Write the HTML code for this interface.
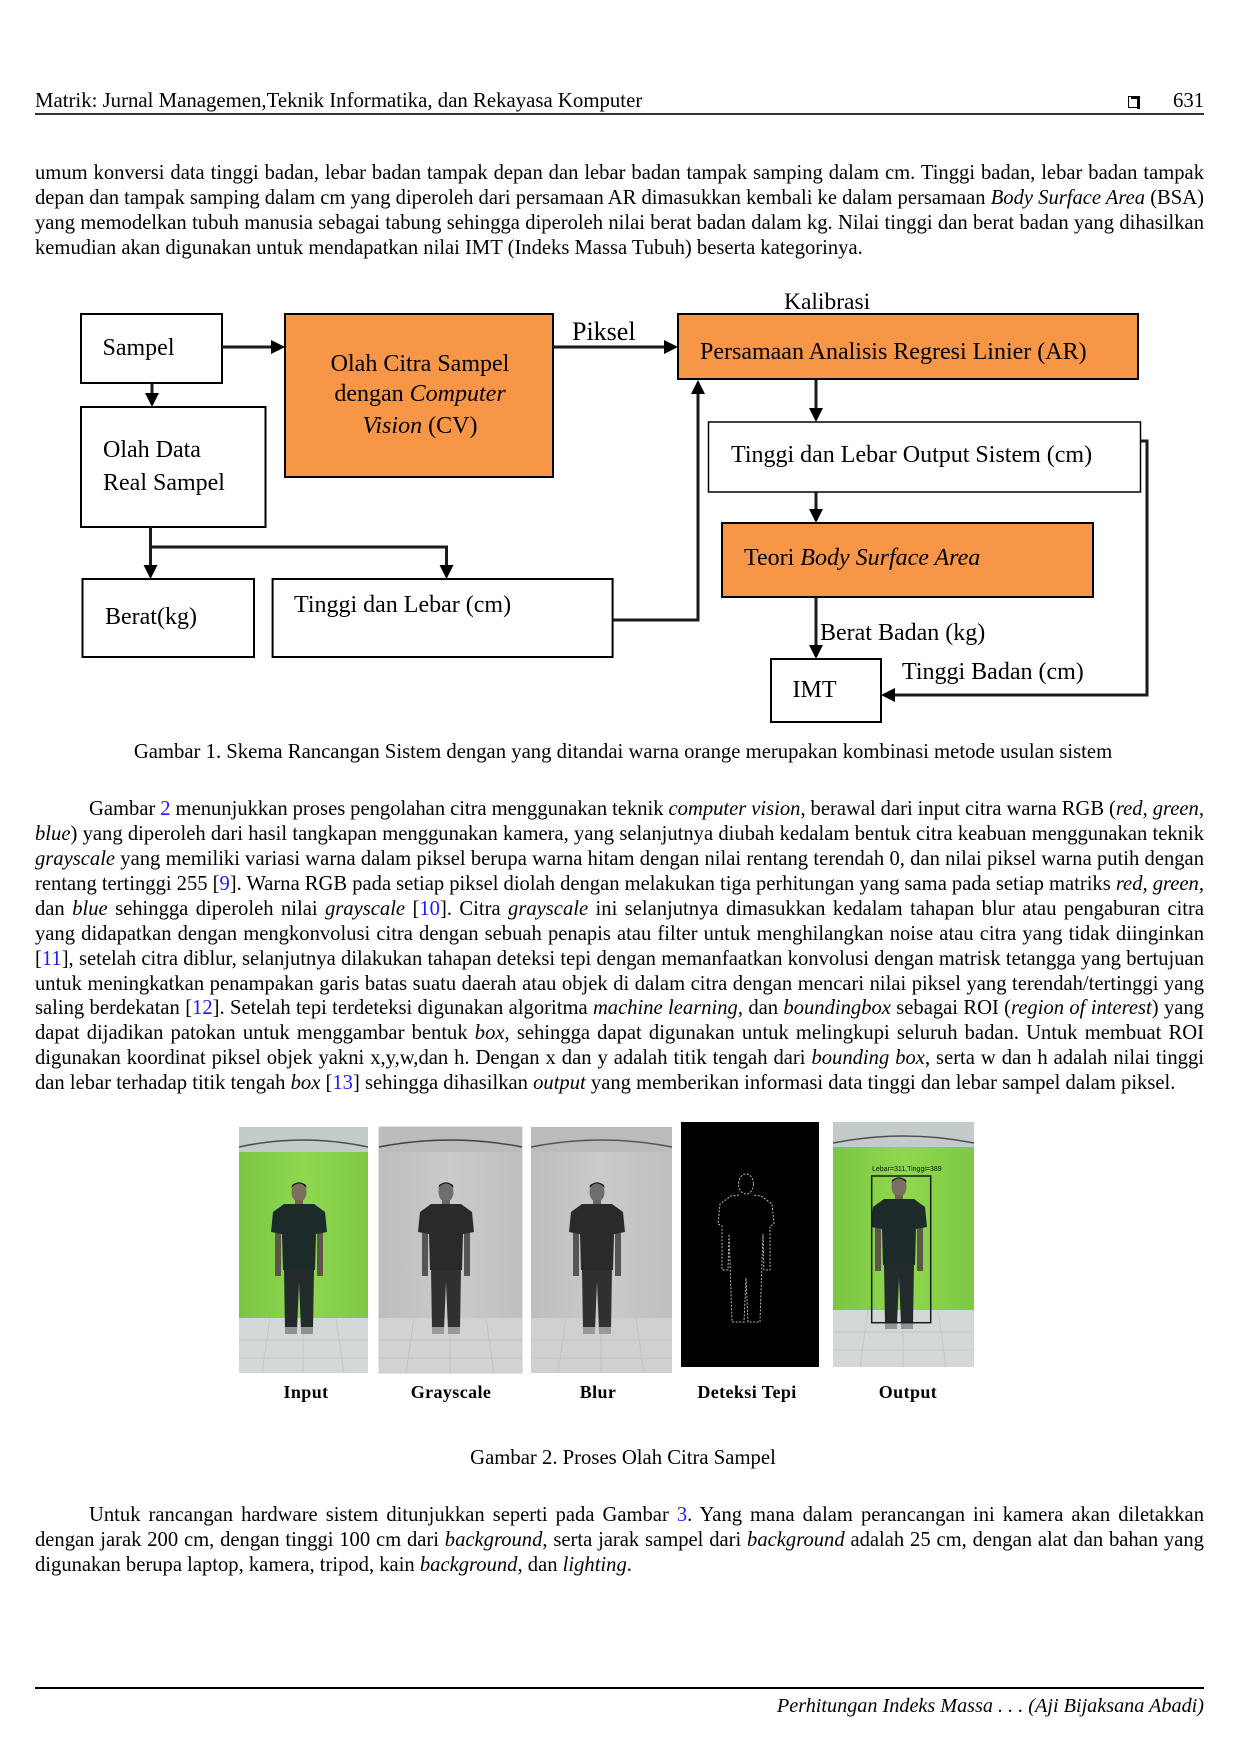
<!DOCTYPE html>
<html>
<head>
<meta charset="utf-8">
<style>
html,body{margin:0;padding:0;background:#fff;}
body{width:1240px;height:1754px;position:relative;overflow:hidden;font-family:"Liberation Serif","Times New Roman",serif;color:#000;}
.t{position:absolute;font-size:20.8px;line-height:25px;white-space:nowrap;}
.j{position:absolute;left:35px;width:1169px;font-size:20.6px;line-height:25px;height:25px;text-align:justify;text-align-last:justify;word-spacing:-4px;}
.ji{left:89px;width:1115px;}
.l{text-align:left;text-align-last:left;word-spacing:0;}
.b{color:#1a1aff;}
svg{position:absolute;left:0;top:0;}
</style>
</head>
<body>
<svg width="1240" height="1754" viewBox="0 0 1240 1754" xmlns="http://www.w3.org/2000/svg">
<defs>
  <g id="person">
    <ellipse cx="0" cy="10" rx="7.5" ry="10" fill="#7d6e62"/>
    <path d="M-7.5 6 Q0 -3 7.5 6 L7 3 Q0 -2 -7 3 Z" fill="#1c1c1c"/>
    <rect x="-4" y="18" width="8" height="5" fill="#6f6258"/>
    <rect x="-24" y="48" width="6" height="46" fill="#5d544c"/>
    <rect x="18" y="48" width="6" height="46" fill="#5d544c"/>
    <path d="M-15 22 L15 22 L26 30 L28 50 L17 52 L16 88 L-16 88 L-17 52 L-28 50 L-26 30 Z" fill="#1d2a2a"/>
    <path d="M-15 88 L15 88 L14 148 L2 148 L0 100 L-2 148 L-14 148 Z" fill="#222a2b"/>
    <rect x="-14" y="145" width="12" height="7" fill="#8e9494"/>
    <rect x="2" y="145" width="12" height="7" fill="#8e9494"/>
  </g>
  <g id="persong">
    <ellipse cx="0" cy="10" rx="7.5" ry="10" fill="#6e6e6e"/>
    <path d="M-7.5 6 Q0 -3 7.5 6 L7 3 Q0 -2 -7 3 Z" fill="#222"/>
    <rect x="-4" y="18" width="8" height="5" fill="#666"/>
    <rect x="-24" y="48" width="6" height="46" fill="#555"/>
    <rect x="18" y="48" width="6" height="46" fill="#555"/>
    <path d="M-15 22 L15 22 L26 30 L28 50 L17 52 L16 88 L-16 88 L-17 52 L-28 50 L-26 30 Z" fill="#2a2a2a"/>
    <path d="M-15 88 L15 88 L14 148 L2 148 L0 100 L-2 148 L-14 148 Z" fill="#303030"/>
    <rect x="-14" y="145" width="12" height="7" fill="#999"/>
    <rect x="2" y="145" width="12" height="7" fill="#999"/>
  </g>
  <linearGradient id="gr" x1="0" x2="1" y1="0" y2="0">
    <stop offset="0" stop-color="#7cc544"/>
    <stop offset="0.5" stop-color="#8fd84e"/>
    <stop offset="1" stop-color="#7ec846"/>
  </linearGradient>
  <linearGradient id="gy" x1="0" x2="1" y1="0" y2="0">
    <stop offset="0" stop-color="#bdbdbd"/>
    <stop offset="0.5" stop-color="#cbcbcb"/>
    <stop offset="1" stop-color="#bfbfbf"/>
  </linearGradient>
</defs>

<!-- ========== DIAGRAM ========== -->
<g stroke="#000" stroke-width="2" fill="#fff">
  <rect x="81" y="314" width="141" height="69"/>
  <rect x="285" y="314" width="268" height="163" fill="#f79646"/>
  <rect x="678" y="314" width="460" height="65" fill="#f79646"/>
  <rect x="81" y="407" width="184.5" height="120"/>
  <rect x="708.5" y="422" width="432" height="70" stroke-width="1.5"/>
  <rect x="722" y="523" width="371" height="74" fill="#f79646"/>
  <rect x="82.5" y="579" width="171.5" height="78"/>
  <rect x="272.6" y="579" width="340" height="78"/>
  <rect x="771" y="659" width="110" height="63"/>
</g>
<g stroke="#1a1a1a" stroke-width="3" fill="none">
  <path d="M222 347 H273"/>
  <path d="M553 347 H666"/>
  <path d="M152 383 V396"/>
  <path d="M150.5 527 V568"/>
  <path d="M150.5 547 H446.5 V568"/>
  <path d="M612.6 620 H698 V392"/>
  <path d="M816 379 V411"/>
  <path d="M816 492 V512"/>
  <path d="M816 597 V648"/>
  <path d="M1140.5 441 H1147 V695 H893"/>
</g>
<g fill="#000">
  <polygon points="285,347 271,340 271,354"/>
  <polygon points="678,347 664,340 664,354"/>
  <polygon points="152,407 145,393 159,393"/>
  <polygon points="150.5,579 143.5,565 157.5,565"/>
  <polygon points="446.5,579 439.5,565 453.5,565"/>
  <polygon points="698,380 691,394 705,394"/>
  <polygon points="816,422 809,408 823,408"/>
  <polygon points="816,523 809,509 823,509"/>
  <polygon points="816,659 809,645 823,645"/>
  <polygon points="881,695 895,688 895,702"/>
</g>
<g font-family="Liberation Serif, Times New Roman, serif" font-size="24" fill="#000">
  <text x="102.5" y="355">Sampel</text>
  <text x="420" y="371" text-anchor="middle">Olah Citra Sampel</text>
  <text x="420" y="401" text-anchor="middle">dengan <tspan font-style="italic">Computer</tspan></text>
  <text x="420" y="433" text-anchor="middle"><tspan font-style="italic">Vision</tspan> (CV)</text>
  <text x="572" y="340" font-size="26">Piksel</text>
  <text x="784" y="309" font-size="23.5">Kalibrasi</text>
  <text x="700" y="359">Persamaan Analisis Regresi Linier (AR)</text>
  <text x="731" y="462">Tinggi dan Lebar Output Sistem (cm)</text>
  <text x="744" y="565">Teori <tspan font-style="italic">Body Surface Area</tspan></text>
  <text x="103" y="457">Olah Data</text>
  <text x="103" y="490">Real Sampel</text>
  <text x="105" y="624">Berat(kg)</text>
  <text x="294" y="612">Tinggi dan Lebar (cm)</text>
  <text x="820" y="640">Berat Badan (kg)</text>
  <text x="792.5" y="697">IMT</text>
  <text x="902" y="679">Tinggi Badan (cm)</text>
</g>

<!-- ========== IMAGES ========== -->
<!-- Input -->
<rect x="239" y="1127" width="129" height="246" fill="#d4d8d8"/>
<rect x="239" y="1127" width="129" height="25" fill="#c4cccb"/>
<path d="M239 1147 Q303 1133 368 1147" stroke="#4a5050" stroke-width="1.5" fill="none"/>
<rect x="239" y="1152" width="129" height="166" fill="url(#gr)"/>
<path d="M239 1340 H368 M239 1358 H368 M270 1318 L262 1373 M303 1318 V1373 M336 1318 L344 1373" stroke="#c2c6c6" stroke-width="1" fill="none"/>
<use href="#person" transform="translate(299,1182)"/>
<!-- Grayscale -->
<rect x="378" y="1126" width="145" height="248" fill="#e4e4e4"/>
<rect x="379" y="1127" width="143" height="246" fill="#d2d2d2"/>
<rect x="379" y="1127" width="143" height="25" fill="#bcbcbc"/>
<path d="M379 1147 Q450 1133 522 1147" stroke="#444" stroke-width="1.5" fill="none"/>
<rect x="379" y="1152" width="143" height="166" fill="url(#gy)"/>
<path d="M379 1340 H522 M379 1358 H522 M414 1318 L406 1373 M450 1318 V1373 M486 1318 L494 1373" stroke="#c0c0c0" stroke-width="1" fill="none"/>
<use href="#persong" transform="translate(446,1182)"/>
<!-- Blur -->
<rect x="531" y="1127" width="141" height="246" fill="#d0d0d0"/>
<rect x="531" y="1127" width="141" height="25" fill="#bbbbbb"/>
<path d="M531 1147 Q601 1133 672 1147" stroke="#555" stroke-width="1.5" fill="none"/>
<rect x="531" y="1152" width="141" height="166" fill="url(#gy)"/>
<path d="M531 1340 H672 M531 1358 H672 M566 1318 L558 1373 M601 1318 V1373 M636 1318 L644 1373" stroke="#c2c2c2" stroke-width="1" fill="none"/>
<use href="#persong" transform="translate(597,1182)"/>
<!-- Deteksi Tepi -->
<rect x="681" y="1122" width="138" height="245" fill="#000"/>
<g transform="translate(746,1174)" fill="none" stroke="#b8b8b8" stroke-width="1" stroke-dasharray="2 1.5">
  <ellipse cx="0" cy="10" rx="7.5" ry="10"/>
  <path d="M-7 21 L-15 22 L-26 30 L-28 50 L-24 52 L-24 96 L-18 96 L-17 60 L-16 88 L-14 148 L-2 148 L0 104 L2 148 L14 148 L16 88 L17 60 L18 96 L24 96 L24 52 L28 50 L26 30 L15 22 L7 21"/>
</g>
<!-- Output -->
<rect x="833" y="1122" width="141" height="245" fill="#d4d8d8"/>
<rect x="833" y="1122" width="141" height="25" fill="#c4cccb"/>
<path d="M833 1143 Q903 1129 974 1143" stroke="#4a5050" stroke-width="1.5" fill="none"/>
<rect x="833" y="1147" width="141" height="163" fill="url(#gr)"/>
<path d="M833 1332 H974 M833 1350 H974 M868 1310 L860 1367 M903 1310 V1367 M938 1310 L946 1367" stroke="#c2c6c6" stroke-width="1" fill="none"/>
<use href="#person" transform="translate(899,1177)"/>
<rect x="871.7" y="1176" width="59" height="146.7" fill="none" stroke="#1a1a1a" stroke-width="1.5"/>
<text x="872" y="1171" font-family="Liberation Sans, sans-serif" font-size="7" fill="#111">Lebar=311,Tinggi=389</text>

<g font-family="Liberation Serif, Times New Roman, serif" font-size="18" font-weight="bold" fill="#000" text-anchor="middle" letter-spacing="0.4">
  <text x="306" y="1398">Input</text>
  <text x="451" y="1398">Grayscale</text>
  <text x="598" y="1398">Blur</text>
  <text x="747" y="1398">Deteksi Tepi</text>
  <text x="908" y="1398">Output</text>
</g>
</svg>

<!-- Header -->
<div class="t" style="left:35px;top:88px;">Matrik: Jurnal Managemen,Teknik Informatika, dan Rekayasa Komputer</div>
<div style="position:absolute;left:1128px;top:96px;width:9px;height:10px;border:1.5px solid #000;"></div>
<div style="position:absolute;left:1131px;top:96px;width:8px;height:3px;background:#000;"></div>
<div style="position:absolute;left:1137px;top:96px;width:3px;height:13px;background:#000;"></div>
<div class="t" style="left:1173px;top:88px;">631</div>
<div style="position:absolute;left:35px;top:113px;width:1169px;height:2px;background:#333;"></div>

<!-- Paragraph 1 -->
<div class="j" style="top:161px;">umum konversi data tinggi badan, lebar badan tampak depan dan lebar badan tampak samping dalam cm. Tinggi badan, lebar badan tampak</div>
<div class="j" style="top:186px;">depan dan tampak samping dalam cm yang diperoleh dari persamaan AR dimasukkan kembali ke dalam persamaan <i>Body Surface Area</i> (BSA)</div>
<div class="j" style="top:211px;">yang memodelkan tubuh manusia sebagai tabung sehingga diperoleh nilai berat badan dalam kg. Nilai tinggi dan berat badan yang dihasilkan</div>
<div class="j l" style="top:236px;">kemudian akan digunakan untuk mendapatkan nilai IMT (Indeks Massa Tubuh) beserta kategorinya.</div>

<!-- Caption 1 -->
<div class="t" style="left:35px;width:1176px;text-align:center;top:740px;font-size:20.7px;">Gambar 1. Skema Rancangan Sistem dengan yang ditandai warna orange merupakan kombinasi metode usulan sistem</div>

<!-- Paragraph 2 -->
<div class="j ji" style="top:797.2px;">Gambar <span class="b">2</span> menunjukkan proses pengolahan citra menggunakan teknik <i>computer vision</i>, berawal dari input citra warna RGB (<i>red, green,</i></div>
<div class="j" style="top:822.1px;"><i>blue</i>) yang diperoleh dari hasil tangkapan menggunakan kamera, yang selanjutnya diubah kedalam bentuk citra keabuan menggunakan teknik</div>
<div class="j" style="top:847px;"><i>grayscale</i> yang memiliki variasi warna dalam piksel berupa warna hitam dengan nilai rentang terendah 0, dan nilai piksel warna putih dengan</div>
<div class="j" style="top:871.9px;">rentang tertinggi 255 [<span class="b">9</span>]. Warna RGB pada setiap piksel diolah dengan melakukan tiga perhitungan yang sama pada setiap matriks <i>red, green,</i></div>
<div class="j" style="top:896.8px;">dan <i>blue</i> sehingga diperoleh nilai <i>grayscale</i> [<span class="b">10</span>]. Citra <i>grayscale</i> ini selanjutnya dimasukkan kedalam tahapan blur atau pengaburan citra</div>
<div class="j" style="top:921.7px;">yang didapatkan dengan mengkonvolusi citra dengan sebuah penapis atau filter untuk menghilangkan noise atau citra yang tidak diinginkan</div>
<div class="j" style="top:946.6px;">[<span class="b">11</span>], setelah citra diblur, selanjutnya dilakukan tahapan deteksi tepi dengan memanfaatkan konvolusi dengan matrisk tetangga yang bertujuan</div>
<div class="j" style="top:971.5px;">untuk meningkatkan penampakan garis batas suatu daerah atau objek di dalam citra dengan mencari nilai piksel yang terendah/tertinggi yang</div>
<div class="j" style="top:996.4px;">saling berdekatan [<span class="b">12</span>]. Setelah tepi terdeteksi digunakan algoritma <i>machine learning</i>, dan <i>boundingbox</i> sebagai ROI (<i>region of interest</i>) yang</div>
<div class="j" style="top:1021.3px;">dapat dijadikan patokan untuk menggambar bentuk <i>box</i>, sehingga dapat digunakan untuk melingkupi seluruh badan. Untuk membuat ROI</div>
<div class="j" style="top:1046.2px;">digunakan koordinat piksel objek yakni x,y,w,dan h. Dengan x dan y adalah titik tengah dari <i>bounding box</i>, serta w dan h adalah nilai tinggi</div>
<div class="j l" style="top:1071.1px;">dan lebar terhadap titik tengah <i>box</i> [<span class="b">13</span>] sehingga dihasilkan <i>output</i> yang memberikan informasi data tinggi dan lebar sampel dalam piksel.</div>

<!-- Caption 2 -->
<div class="t" style="left:35px;width:1176px;text-align:center;top:1445.5px;font-size:20.7px;">Gambar 2. Proses Olah Citra Sampel</div>

<!-- Paragraph 3 -->
<div class="j ji" style="top:1502.8px;">Untuk rancangan hardware sistem ditunjukkan seperti pada Gambar <span class="b">3</span>. Yang mana dalam perancangan ini kamera akan diletakkan</div>
<div class="j" style="top:1527.8px;">dengan jarak 200 cm, dengan tinggi 100 cm dari <i>background</i>, serta jarak sampel dari <i>background</i> adalah 25 cm, dengan alat dan bahan yang</div>
<div class="j l" style="top:1552.8px;">digunakan berupa laptop, kamera, tripod, kain <i>background</i>, dan <i>lighting</i>.</div>

<!-- Footer -->
<div style="position:absolute;left:35px;top:1687px;width:1169px;height:1.5px;background:#000;"></div>
<div class="t" style="left:35px;width:1169px;text-align:right;top:1693.5px;font-style:italic;font-size:20.2px;">Perhitungan Indeks Massa . . . (Aji Bijaksana Abadi)</div>
</body>
</html>
